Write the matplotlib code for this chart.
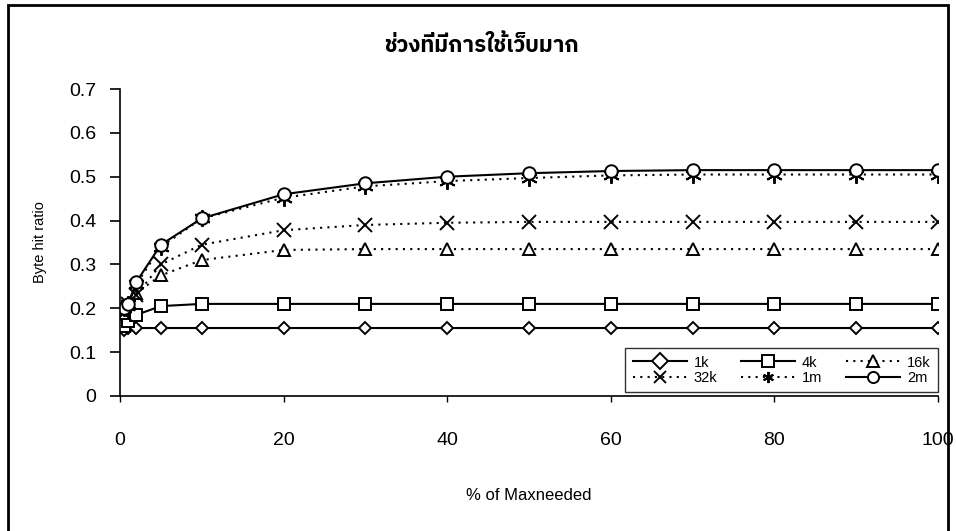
import matplotlib
matplotlib.use("Agg")
import matplotlib.pyplot as plt
from matplotlib import font_manager, ft2font
from matplotlib.patches import Rectangle

# ---------------- data ----------------
x_pct = [0.5, 1, 2, 5, 10, 20, 30, 40, 50, 60, 70, 80, 90, 100]
s_1k  = [0.150, 0.155, 0.155, 0.155, 0.155, 0.155, 0.155, 0.155, 0.155, 0.155, 0.155, 0.155, 0.155, 0.155]
s_4k  = [0.160, 0.170, 0.185, 0.205, 0.210, 0.210, 0.210, 0.210, 0.210, 0.210, 0.210, 0.210, 0.210, 0.210]
s_16k = [0.190, 0.210, 0.235, 0.275, 0.310, 0.333, 0.335, 0.335, 0.335, 0.335, 0.335, 0.335, 0.335, 0.335]
s_32k = [0.190, 0.210, 0.230, 0.300, 0.345, 0.378, 0.390, 0.395, 0.397, 0.397, 0.397, 0.397, 0.397, 0.397]
s_1m  = [0.200, 0.210, 0.255, 0.340, 0.405, 0.452, 0.478, 0.490, 0.497, 0.503, 0.505, 0.505, 0.505, 0.505]
s_2m  = [0.200, 0.210, 0.260, 0.345, 0.405, 0.460, 0.485, 0.500, 0.508, 0.513, 0.515, 0.515, 0.515, 0.515]
series_names = ["1k", "4k", "16k", "32k", "1m", "2m"]
y_ticks = [0, 0.1, 0.2, 0.3, 0.4, 0.5, 0.6, 0.7]
y_ticklabels = ["0", "0.1", "0.2", "0.3", "0.4", "0.5", "0.6", "0.7"]
x_ticks = [0, 20, 40, 60, 80, 100]
title_text = "ช่วงที่มีการใช้เว็บมาก"
xlabel_text = "% of Maxneeded"
ylabel_text = "Byte hit ratio"

# ---------------- find a Thai-capable font ----------------
thai_family = None
cands = []
for f in font_manager.fontManager.ttflist:
    try:
        cm = ft2font.FT2Font(f.fname).get_charmap()
    except Exception:
        continue
    if 0x0E0A in cm and 0x0E48 in cm and 0x0E47 in cm:
        cands.append(f.name)
if cands:
    pref = [c for c in cands if "Thai" in c] or cands
    thai_family = pref[0]

base = "Liberation Sans"
plt.rcParams["font.family"] = [base, "DejaVu Sans"]

fig = plt.figure(figsize=(9.56, 5.31), dpi=100)
ax = fig.add_axes([120 / 956, 1 - 396 / 531, (938 - 120) / 956, (396 - 89) / 531])

solid = "-"
dotted = (0, (1, 2.5))
styles = [
    (s_1k, solid, "D", 6.5),
    (s_4k, solid, "s", 9),
    (s_16k, dotted, "^", 9),
    (s_32k, dotted, "x", 10),
    (s_1m, dotted, (6, 2, 0), 12),
    (s_2m, solid, "o", 9),
]
handles = []
for name, (vals, ls, mk, ms) in zip(series_names, styles):
    h, = ax.plot(x_pct, vals, color="black", linestyle=ls, linewidth=1.5,
                 marker=mk, markersize=ms, markerfacecolor="white",
                 markeredgecolor="black", markeredgewidth=1.4, label=name)
    handles.append(h)

ax.set_xlim(0, 100)
ax.set_ylim(0, 0.7)
ax.set_yticks(y_ticks)
ax.set_yticklabels(y_ticklabels)
ax.set_xticks(x_ticks)
ax.spines["top"].set_visible(False)
ax.spines["right"].set_visible(False)
ax.spines["left"].set_linewidth(1.2)
ax.spines["bottom"].set_linewidth(1.2)
ax.tick_params(axis="y", direction="out", length=7, width=1.2, labelsize=14, pad=10)
ax.tick_params(axis="x", direction="out", length=4, width=1.0, labelsize=14, pad=22)

ax.set_xlabel(xlabel_text, fontsize=12, labelpad=28)
ax.set_ylabel(ylabel_text, fontsize=10.5, labelpad=16)

title_fam = [thai_family, base] if thai_family else [base]
fig.text(481 / 956, 1 - 45 / 531, title_text, ha="center", va="center",
         fontsize=16, fontweight="bold", family=title_fam)

order = [0, 3, 1, 4, 2, 5]
leg = ax.legend([handles[i] for i in order], [series_names[i] for i in order],
                ncol=3, loc="lower right", bbox_to_anchor=(1.0, 0.012),
                fontsize=10.5, frameon=True, fancybox=False, edgecolor="black",
                handlelength=3.7, handletextpad=0.5, columnspacing=1.6,
                labelspacing=0.1, borderpad=0.5, borderaxespad=0.0)
leg.get_frame().set_linewidth(1.0)
for lh in leg.legend_handles:
    lh.set_markersize(8)

# outer frame
fig.patches.append(Rectangle((8 / 956, -0.02), (948 - 8) / 956, 1 - 5 / 531 + 0.02,
                             transform=fig.transFigure, fill=False,
                             edgecolor="black", linewidth=2.0))

fig.savefig("out.png", dpi=100)
